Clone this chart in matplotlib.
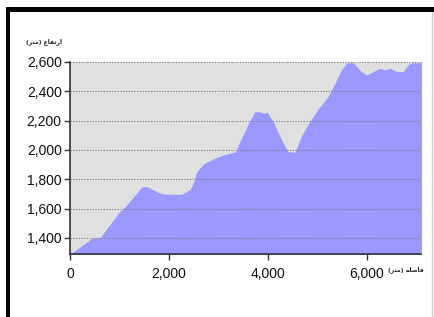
import matplotlib
matplotlib.use('Agg')
import matplotlib.pyplot as plt
from matplotlib.patches import Rectangle
from matplotlib.lines import Line2D

# elevation profile (distance in m, elevation in m)
dist = [0, 30, 400, 440, 610, 980, 1150, 1450, 1550, 1650, 1790, 1920,
        2260, 2430, 2500, 2560, 2700, 2900, 3100, 3240, 3340, 3470, 3610,
        3740, 3840, 3920, 3990, 4110, 4280, 4410, 4550, 4690, 4850, 5030,
        5220, 5360, 5490, 5600, 5730, 5860, 6000, 6130, 6270, 6370, 6470,
        6610, 6740, 6840, 6910, 7100]
elev = [1290, 1296, 1386, 1398, 1402, 1568, 1625, 1746, 1750, 1734, 1709, 1698,
        1698, 1730, 1780, 1850, 1905, 1939, 1966, 1978, 1984, 2080, 2182,
        2261, 2261, 2250, 2257, 2193, 2068, 1989, 1984, 2102, 2193, 2284,
        2363, 2455, 2545, 2595, 2595, 2545, 2511, 2534, 2557, 2545, 2557,
        2534, 2534, 2580, 2595, 2595]

x_ticks = [0, 2000, 4000, 6000]
y_ticks = [1400, 1600, 1800, 2000, 2200, 2400, 2600]

# Persian labels in visual order with presentation forms (matplotlib does no shaping)
y_title = '(\uFEAE\uFE98\uFEE3) \uFEC9\uFE8E\uFED4\uFE97\uFEAD\uFE8D'   # ارتفاع (متر)
x_title = '(\uFEAE\uFE98\uFEE3) \uFEEA\uFEE0\uFEBB\uFE8E\uFED3'         # فاصله (متر)

plt.rcParams['font.family'] = ['Liberation Sans', 'DejaVu Sans']

fig = plt.figure(figsize=(4.35, 3.17), dpi=100)
ax = fig.add_axes([70 / 435, 1 - 254 / 317, 351 / 435, 192 / 317])
ax.set_facecolor('#e0e0e0')

ax.fill_between(dist, elev, 1000, color='#9999ff', linewidth=0)

ax.set_xlim(0, 7100)
ax.set_ylim(1290, 2600)
ax.set_xticks(x_ticks)
ax.set_yticks(y_ticks)
ax.set_xticklabels([f'{v:,}' for v in x_ticks])
ax.set_yticklabels([f'{v:,}' for v in y_ticks])
ax.tick_params(axis='both', direction='out', length=4, width=1, colors='#333333',
               labelsize=10, labelcolor='#111111', pad=2)
ax.tick_params(axis='x', pad=5)

ax.grid(axis='y', linestyle=(0, (1, 1.5)), color='#7a7a7a', linewidth=0.8)
ax.set_axisbelow(False)
for s in ['left', 'bottom']:
    ax.spines[s].set_color('#333333')
    ax.spines[s].set_linewidth(1.2)
for s in ['top', 'right']:
    ax.spines[s].set_color('#aaaaaa')
    ax.spines[s].set_linewidth(0.8)
ax.spines['top'].set_visible(False)

fig.text(26 / 435, 1 - 42 / 317, y_title, fontsize=4.3, fontweight='bold',
         family=['DejaVu Sans'], ha='left', va='center', color='#222222')
fig.text(388 / 435, 1 - 270 / 317, x_title, fontsize=4.3, fontweight='bold',
         family=['DejaVu Sans'], ha='left', va='center', color='#222222')

# frame around the picture
fig.add_artist(Rectangle((6 / 435, 0), 4 / 435, 1 - 7 / 317,
                         transform=fig.transFigure, color='black', lw=0))
fig.add_artist(Rectangle((6 / 435, 1 - 12 / 317), 1 - 6 / 435, 5 / 317,
                         transform=fig.transFigure, color='black', lw=0))
fig.add_artist(Line2D([432 / 435, 432 / 435], [0, 1 - 12 / 317],
                      transform=fig.transFigure, color='#cccccc', lw=1))

fig.savefig('out.png', dpi=100)
